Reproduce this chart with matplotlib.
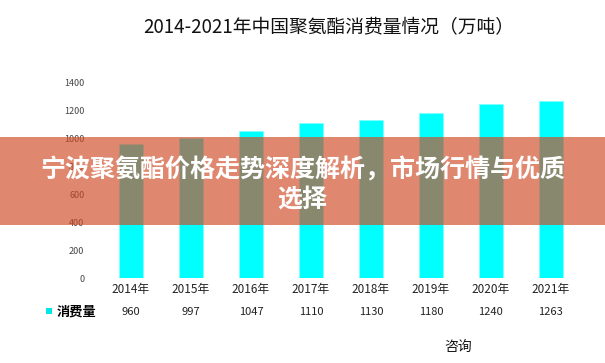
import matplotlib
matplotlib.use("Agg")
import matplotlib.pyplot as plt
import matplotlib.transforms as mtransforms
from matplotlib.patches import Rectangle

plt.rcParams['font.family'] = ['Noto Sans CJK SC', 'DejaVu Sans']

years = ['2014年', '2015年', '2016年', '2017年', '2018年', '2019年', '2020年', '2021年']
consumption = [960, 997, 1047, 1110, 1130, 1180, 1240, 1263]
y_ticks = [0, 200, 400, 600, 800, 1000, 1200, 1400]
title = '2014-2021年中国聚氨酯消费量情况（万吨）'
series_name = '消费量'
banner = '宁波聚氨酯价格走势深度解析，市场行情与优质\n选择'

fig = plt.figure(figsize=(6.05, 3.63), dpi=100)
ax = fig.add_axes([0.167, 0.234, 0.793, 0.540])

x = range(len(years))
ax.bar(x, consumption, width=0.4, color='#00FFFF', edgecolor='#7FFFFF', linewidth=0.5)
ax.set_xlim(-0.5, len(years) - 0.5)
ax.set_ylim(0, 1400)
ax.set_yticks(y_ticks)
ax.set_yticklabels([str(v) for v in y_ticks], fontsize=6.5, color='#444444')
ax.tick_params(axis='y', length=0, pad=12)
ax.set_xticks([])
for s in ax.spines.values():
    s.set_visible(False)

# table under the bars
trans = mtransforms.blended_transform_factory(ax.transData, ax.transAxes)
for i, (yr, v) in enumerate(zip(years, consumption)):
    ax.text(i, -0.058, yr, transform=trans, ha='center', va='center', fontsize=8.5, color='#222222')
    ax.text(i, -0.175, str(v), transform=trans, ha='center', va='center', fontsize=8, color='#222222')

fig.patches.append(Rectangle((46 / 605, 1 - 314 / 363), 6 / 605, 6 / 363,
                             transform=fig.transFigure, facecolor='#00E5E5', linewidth=0))
fig.text(57 / 605, 1 - 312 / 363, series_name, fontsize=9.5, fontweight='bold', va='center', ha='left')

fig.text(329 / 605, 1 - 28 / 363, title, fontsize=13.5, ha='center', va='center', color='#111111')
fig.text(458 / 605, 1 - 347 / 363, '咨询', fontsize=10, ha='center', va='center', color='#111111')

# overlay banner
fig.patches.append(Rectangle((0, 1 - 225 / 363), 1, 88 / 363, transform=fig.transFigure,
                             facecolor='#D04A24', linewidth=0, alpha=0.66, zorder=10))
fig.text(0.5, 1 - 185 / 363, banner, fontsize=18, fontweight='bold', color='white',
         ha='center', va='center', linespacing=1.3, zorder=11)

fig.savefig('out.png', dpi=100)
